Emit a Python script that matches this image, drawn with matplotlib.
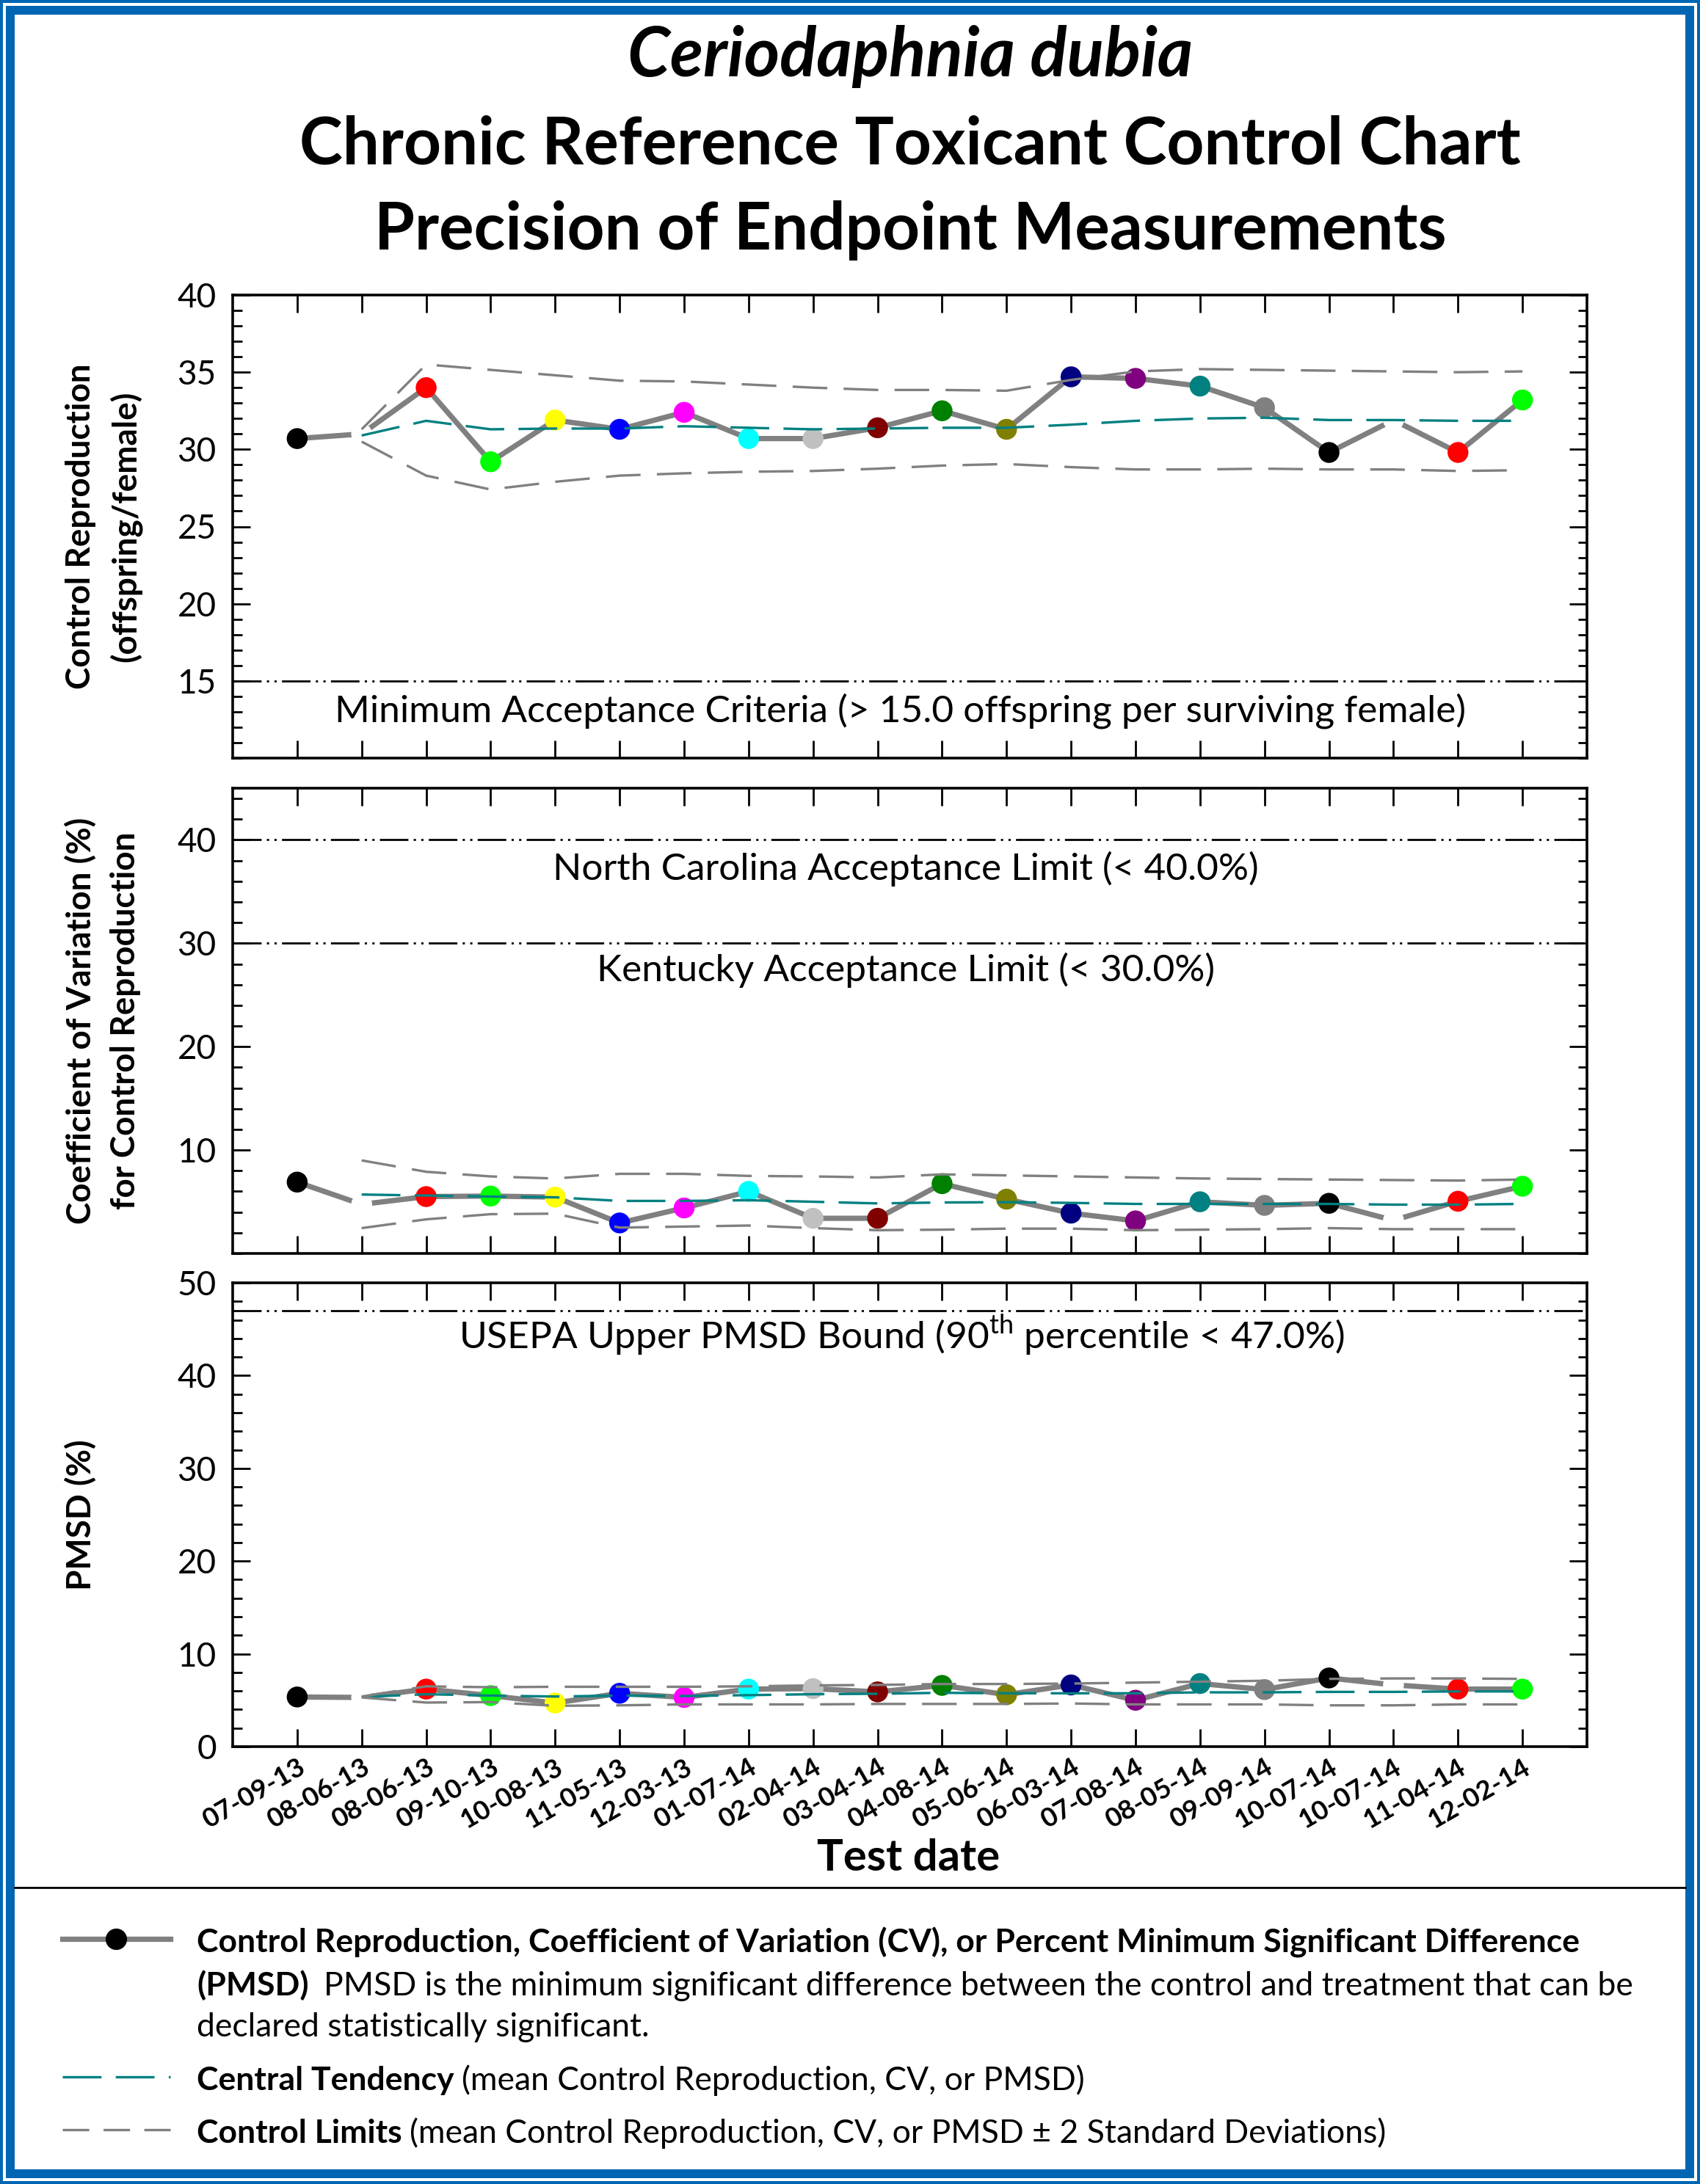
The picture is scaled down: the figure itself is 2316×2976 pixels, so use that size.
import numpy as np
import matplotlib
matplotlib.use('Agg')
import matplotlib.pyplot as plt
from matplotlib.ticker import MultipleLocator
from matplotlib.patches import Rectangle
from matplotlib.lines import Line2D

plt.rcParams['font.family'] = ['Lato', 'DejaVu Sans']
plt.rcParams['mathtext.fontset'] = 'custom'
plt.rcParams['mathtext.rm'] = 'Lato'
plt.rcParams['lines.scale_dashes'] = False

# test dates and data
dates = ['07-09-13', '08-06-13', '08-06-13', '09-10-13', '10-08-13', '11-05-13',
         '12-03-13', '01-07-14', '02-04-14', '03-04-14', '04-08-14', '05-06-14',
         '06-03-14', '07-08-14', '08-05-14', '09-09-14', '10-07-14', '10-07-14',
         '11-04-14', '12-02-14']
marker_colors = ['#000000', '#FFFFFF', '#FF0000', '#00FF00', '#FFFF00', '#0000FF',
                 '#FF00FF', '#00FFFF', '#C0C0C0', '#800000', '#008000', '#808000',
                 '#000080', '#800080', '#008080', '#808080', '#000000', '#FFFFFF',
                 '#FF0000', '#00FF00']

nan = np.nan
repro = [30.7, 31.0, 34.0, 29.2, 31.9, 31.3, 32.4, 30.7, 30.7, 31.4,
         32.5, 31.3, 34.7, 34.6, 34.1, 32.7, 29.8, 31.9, 29.8, 33.2]
repro_mean = [nan, 30.9, 31.85, 31.3, 31.35, 31.35, 31.5, 31.4, 31.3, 31.35,
              31.4, 31.4, 31.6, 31.85, 32.0, 32.05, 31.9, 31.9, 31.85, 31.85]
repro_ucl = [nan, 31.3, 35.5, 35.15, 34.8, 34.45, 34.4, 34.2, 34.0, 33.85,
             33.85, 33.8, 34.5, 35.05, 35.2, 35.15, 35.1, 35.05, 35.0, 35.05]
repro_lcl = [nan, 30.5, 28.3, 27.4, 27.9, 28.3, 28.45, 28.55, 28.6, 28.75,
             28.95, 29.05, 28.85, 28.7, 28.7, 28.75, 28.7, 28.7, 28.6, 28.65]

cv = [6.9, 4.75, 5.5, 5.55, 5.45, 2.95, 4.4, 6.0, 3.4, 3.4,
      6.75, 5.25, 3.9, 3.15, 5.0, 4.65, 4.85, 3.2, 5.05, 6.5]
cv_mean = [nan, 5.7, 5.6, 5.5, 5.43, 5.08, 5.08, 5.15, 5.0, 4.84,
           4.93, 4.96, 4.89, 4.79, 4.79, 4.79, 4.79, 4.72, 4.72, 4.79]
cv_ucl = [nan, 9.0, 7.9, 7.45, 7.25, 7.7, 7.7, 7.5, 7.45, 7.35,
          7.65, 7.55, 7.45, 7.35, 7.25, 7.2, 7.15, 7.1, 7.05, 7.15]
cv_lcl = [nan, 2.45, 3.3, 3.8, 3.85, 2.5, 2.6, 2.7, 2.45, 2.25,
          2.3, 2.4, 2.4, 2.25, 2.3, 2.35, 2.45, 2.35, 2.35, 2.35]

pmsd = [5.35, 5.3, 6.2, 5.5, 4.7, 5.75, 5.3, 6.2, 6.25, 5.9,
        6.6, 5.6, 6.65, 5.0, 6.8, 6.15, 7.4, 6.65, 6.2, 6.2]
pmsd_mean = [nan, 5.35, 5.65, 5.5, 5.4, 5.5, 5.45, 5.55, 5.65, 5.7,
             5.8, 5.75, 5.75, 5.75, 5.85, 5.85, 5.9, 5.9, 5.95, 5.95]
pmsd_ucl = [nan, 5.4, 6.5, 6.4, 6.45, 6.45, 6.45, 6.5, 6.6, 6.65,
            6.75, 6.75, 6.8, 6.9, 7.0, 7.1, 7.3, 7.35, 7.35, 7.3]
pmsd_lcl = [nan, 5.3, 4.75, 4.8, 4.4, 4.45, 4.55, 4.55, 4.55, 4.6,
            4.6, 4.6, 4.65, 4.55, 4.55, 4.55, 4.45, 4.45, 4.55, 4.55]

repro_limits = [15]
cv_limits = [40, 30]
pmsd_limits = [47]

W, H = 2316, 2976
fig = plt.figure(figsize=(W / 200, H / 200), dpi=200)

GRAY = '#808080'
TEAL = '#008080'
x = np.arange(len(dates))

left, width = 317 / W, 1845 / W


def panel(top_px, bot_px, vals, mean, ucl, lcl, limits, ylim, major, minor):
    ax = fig.add_axes([left, 1 - bot_px / H, width, (bot_px - top_px) / H])
    ax.plot(x, vals, color=GRAY, lw=2.6, zorder=2)
    ax.scatter(x, vals, s=105, c=marker_colors, linewidths=0, zorder=3)
    ax.plot(x, mean, color=TEAL, lw=1.2, dashes=(19, 7), zorder=4)
    ax.plot(x, ucl, color=GRAY, lw=1.2, dashes=(17, 8), zorder=4)
    ax.plot(x, lcl, color=GRAY, lw=1.2, dashes=(17, 8), zorder=4)
    for v in limits:
        ax.axhline(v, color='black', lw=1.0,
                   dashes=(14, 2.6, 1.1, 2.6, 1.1, 2.6), zorder=1)
    ax.set_xlim(-1, 20)
    ax.set_ylim(*ylim)
    ax.set_xticks(x)
    ax.yaxis.set_major_locator(MultipleLocator(major))
    ax.yaxis.set_minor_locator(MultipleLocator(minor))
    ax.tick_params(which='both', direction='in', top=True, right=True,
                   width=1.0, labelsize=16.5, pad=8)
    ax.tick_params(which='major', length=8.5)
    ax.tick_params(which='minor', length=4.5)
    for s in ax.spines.values():
        s.set_linewidth(1.3)
    ax.set_xticklabels([])
    return ax


ax1 = panel(402, 1033, repro, repro_mean, repro_ucl, repro_lcl, repro_limits,
            (10, 40), 5, 1)
ax2 = panel(1074, 1708, cv, cv_mean, cv_ucl, cv_lcl, cv_limits, (0, 45), 10, 2)
ax3 = panel(1748, 2380, pmsd, pmsd_mean, pmsd_ucl, pmsd_lcl, pmsd_limits,
            (0, 50), 10, 2)
ax1.set_yticks([15, 20, 25, 30, 35, 40])
ax2.set_yticks([10, 20, 30, 40])

ax3.set_xticklabels(dates, rotation=30, ha='right', va='top',
                    rotation_mode='anchor', fontsize=13.2, fontweight='bold')
ax3.tick_params(axis='x', pad=4)

TFS = 18.5
ax1.text(0.493, 12.35, 'Minimum Acceptance Criteria (> 15.0 offspring per surviving female)',
         transform=ax1.get_yaxis_transform(), ha='center', va='baseline', fontsize=TFS)
ax2.text(0.497, 36.1, 'North Carolina Acceptance Limit (< 40.0%)',
         transform=ax2.get_yaxis_transform(), ha='center', va='baseline', fontsize=TFS)
ax2.text(0.497, 26.3, 'Kentucky Acceptance Limit (< 30.0%)',
         transform=ax2.get_yaxis_transform(), ha='center', va='baseline', fontsize=TFS)
ax3.text(0.494, 42.9, r'USEPA Upper PMSD Bound (90$^{\mathrm{th}}$ percentile < 47.0%)',
         transform=ax3.get_yaxis_transform(), ha='center', va='baseline', fontsize=TFS)

# overlay in pixel coordinates for titles, labels, legend and frame
ov = fig.add_axes([0, 0, 1, 1], zorder=10)
ov.set_xlim(0, W)
ov.set_ylim(H, 0)
ov.axis('off')
ov.patch.set_visible(False)

ov.text(1240, 104, 'Ceriodaphnia dubia', ha='center', va='baseline',
        fontsize=33.5, fontstyle='italic', fontweight='bold')
ov.text(1240, 224, 'Chronic Reference Toxicant Control Chart', ha='center',
        va='baseline', fontsize=32, fontweight='bold')
ov.text(1240, 340, 'Precision of Endpoint Measurements', ha='center',
        va='baseline', fontsize=32, fontweight='bold')

ylab_kw = dict(rotation=90, ha='center', va='center', fontsize=16.5, fontweight='bold')
ov.text(110, (402 + 1033) / 2, 'Control Reproduction', **ylab_kw)
ov.text(171, (402 + 1033) / 2, '(offspring/female)', **ylab_kw)
ov.text(110, (1074 + 1708) / 2, 'Coefficient of Variation (%)', **ylab_kw)
ov.text(171, (1074 + 1708) / 2, 'for Control Reproduction', **ylab_kw)
ov.text(110, (1748 + 2380) / 2, 'PMSD (%)', **ylab_kw)

ov.text(1238, 2549, 'Test date', ha='center', va='baseline', fontsize=21.5,
        fontweight='bold')

# separator above legend
ov.add_line(Line2D([20, W - 20], [2572, 2572], color='black', lw=1.0))

renderer = fig.canvas.get_renderer()
LFS = 16


def rich(xp, yp, parts):
    for txt, weight, gap in parts:
        xp += gap
        t = ov.text(xp, yp, txt, fontsize=LFS, fontweight=weight, ha='left',
                    va='baseline')
        bb = t.get_window_extent(renderer)
        xp = ov.transData.inverted().transform((bb.x1, bb.y0))[0]


sp = LFS * 0.23 * 200 / 72
tx = 268
rich(tx, 2660, [('Control Reproduction, Coefficient of Variation (CV), or Percent Minimum Significant Difference', 'bold', 0)])
rich(tx, 2719, [('(PMSD)', 'bold', 0),
                ('PMSD is the minimum significant difference between the control and treatment that can be', 'normal', 2 * sp)])
rich(tx, 2775, [('declared statistically significant.', 'normal', 0)])
rich(tx, 2848, [('Central Tendency', 'bold', 0),
                ('(mean Control Reproduction, CV, or PMSD)', 'normal', sp)])
rich(tx, 2920, [('Control Limits', 'bold', 0),
                ('(mean Control Reproduction, CV, or PMSD \u00b1 2 Standard Deviations)', 'normal', sp)])

ov.add_line(Line2D([85, 232], [2642, 2642], color=GRAY, lw=2.6))
ov.plot([158], [2642], 'o', color='black', ms=9.5)
ov.add_line(Line2D([85, 232], [2830, 2830], color=TEAL, lw=1.2, dashes=(19, 7)))
ov.add_line(Line2D([85, 232], [2902, 2902], color=GRAY, lw=1.2, dashes=(13, 7)))

# blue double frame
BLUE = '#0066B3'
ov.add_patch(Rectangle((2, 2), W - 4, H - 4, fill=False, ec=BLUE, lw=4 * 72 / 200))
ov.add_patch(Rectangle((14, 14), W - 28, H - 28, fill=False, ec=BLUE, lw=12 * 72 / 200))

fig.savefig('out.png', dpi=200)
